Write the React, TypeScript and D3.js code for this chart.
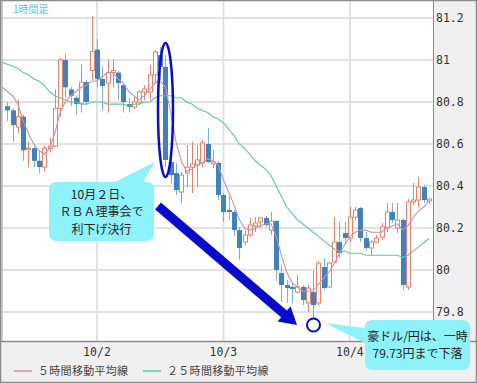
import React from 'react';
import * as d3 from 'd3';

const opens = [80.78,80.76,80.68,80.73,80.575,80.58,80.52,80.49,80.58,80.59, 80.77,81.00,80.86,80.82,80.795,80.895,80.95,81.05,80.91,80.89, 80.94,80.94,80.88,80.79,80.776,80.80,80.848,80.848,80.929,81.024, 80.967,80.514,80.462,80.371,80.462,80.49,80.50,80.51,80.60,80.505, 80.51,80.357,80.286,80.276,80.19,80.133,80.167,80.21,80.229,80.248, 80.19,80.233,79.986,79.929,79.919,79.895,79.919,79.843,79.895,79.843, 80.014,79.919,80.038,80.133,80.176,80.152,80.252,80.295,80.152,80.105, 80.133,80.157,80.20,80.276,80.20,80.238,79.919,80.324,80.333,80.395, 80.329];
const highs = [80.80,80.77,80.81,80.74,80.61,80.59,80.57,80.59,80.63,80.86, 81.01,81.03,80.87,80.83,80.98,80.905,81.21,81.10,80.97,81.00, 81.00,80.95,80.89,80.82,80.825,80.857,80.88,80.976,81.048,81.062, 81.024,80.524,80.51,80.467,80.595,80.61,80.595,80.619,80.676,80.571, 80.519,80.367,80.348,80.286,80.205,80.19,80.248,80.252,80.252,80.257, 80.276,80.238,80.024,79.952,79.943,79.976,79.929,79.929,80.0,80.043, 80.057,80.038,80.252,80.229,80.229,80.30,80.30,80.30,80.181,80.143, 80.167,80.224,80.319,80.319,80.319,80.248,80.338,80.414,80.443,80.405, 80.343];
const lows = [80.71,80.61,80.65,80.52,80.49,80.49,80.46,80.47,80.56,80.585, 80.73,80.82,80.78,80.74,80.75,80.786,80.905,80.87,80.76,80.75, 80.87,80.81,80.75,80.75,80.767,80.786,80.81,80.81,80.89,80.905, 80.49,80.414,80.357,80.319,80.395,80.367,80.395,80.49,80.51,80.486, 80.333,80.229,80.238,80.162,80.048,80.119,80.157,80.181,80.20,80.205, 80.167,79.948,79.848,79.843,79.843,79.890,79.833,79.80,79.77,79.833, 79.905,79.914,80.033,80.057,80.129,80.133,80.238,80.133,80.095,80.071, 80.129,80.143,80.181,80.224,80.176,79.905,79.905,80.31,80.30,80.319, 80.314];
const closes = [80.76,80.69,80.73,80.57,80.58,80.52,80.49,80.58,80.59,80.77, 81.00,80.87,80.83,80.79,80.895,80.80,81.04,80.91,80.876,80.94, 80.95,80.89,80.80,80.776,80.80,80.848,80.862,80.929,81.038,80.967, 80.524,80.452,80.381,80.452,80.49,80.505,80.524,80.605,80.514,80.514, 80.357,80.276,80.276,80.19,80.105,80.167,80.214,80.224,80.248,80.214, 80.233,80.0,79.929,79.914,79.910,79.919,79.857,79.914,79.833,80.033, 79.914,80.033,80.133,80.081,80.152,80.252,80.286,80.152,80.105,80.133, 80.152,80.205,80.276,80.238,80.238,79.929,80.324,80.333,80.395,80.333, 80.338];

// moving averages, first value is one hour before the first candle
const ma5 = [80.87,80.85,80.83,80.79,80.71,80.65,80.60,80.57,80.55,80.58,80.65, 80.75,80.80,80.83,80.85,80.87,80.88,80.90,80.90,80.92,80.94, 80.94,80.91,80.89,80.85,80.83,80.81,80.83,80.86,80.89,80.90, 80.87,80.75,80.61,80.52,80.47,80.48,80.50,80.51,80.53,80.52, 80.50,80.43,80.37,80.31,80.24,80.20,80.19,80.20,80.21,80.22, 80.22,80.16,80.07,79.99,79.94,79.92,79.90,79.90,79.90,79.93, 79.96,79.99,80.03,80.08,80.12,80.16,80.18,80.19,80.19,80.18, 80.18,80.18,80.20,80.21,80.22,80.19,80.21,80.25,80.28,80.30, 80.33];
const ma25 = [80.99,80.98,80.97,80.96,80.94,80.93,80.91,80.90,80.88,80.85,80.83, 80.82,80.81,80.80,80.80,80.79,80.79,80.80,80.80,80.80,80.79, 80.79,80.79,80.79,80.78,80.79,80.79,80.80,80.80,80.82,80.83, 80.83,80.83,80.82,80.82,80.80,80.79,80.77,80.76,80.75,80.73, 80.72,80.70,80.67,80.64,80.60,80.58,80.55,80.52,80.50,80.48, 80.45,80.40,80.35,80.30,80.27,80.24,80.22,80.20,80.18,80.16, 80.14,80.12,80.10,80.09,80.09,80.08,80.08,80.08,80.07,80.07, 80.07,80.07,80.07,80.07,80.07,80.06,80.07,80.09,80.11,80.13, 80.15];

const yTicks = [79.8, 80, 80.2, 80.4, 80.6, 80.8, 81, 81.2];
const yTickLabels = ['79.8', '80', '80.2', '80.4', '80.6', '80.8', '81', '81.2'];
const dayLabels = ['10/2', '10/3', '10/4'];
const dayIndex = [17, 41, 65];
const legendLabels = ['５時間移動平均線', '２５時間移動平均線'];
const note1 = ['10月２日、', 'ＲＢＡ理事会で', '利下げ決行'];
const note2 = ['豪ドル/円は、一時', '79.73円まで下落'];

const W = 477, H = 383;
const PL = 2, PT = 1, PR = 433, PB = 341;
const UP = '#e5836a';
const DOWN = '#3f82bd';
const DOWN_WICK = '#7db0da';
const PINK = '#cf8fab';
const GREEN = '#5ccb9c';
const CYAN = '#8ef2fb';
const NAVY = '#0a0acc';
const JP = '"Noto Sans CJK JP", "Noto Sans", sans-serif';
const MONO = '"DejaVu Sans Mono", monospace';

export default function App() {
  const x = d3.scaleLinear().domain([-1, 80]).range([2.1, 429]);
  const y = d3.scaleLinear().domain([79.8, 81.2]).range([312, 18]);
  const line = d3.line<number>().x((_, i) => x(i - 1)).y(d => y(d));

  const bw = 4;
  const candles = opens.map((o, i) => {
    const c = closes[i];
    const up = c >= o;
    const cx = Math.round(x(i));
    const top = y(Math.max(o, c));
    const bot = y(Math.min(o, c));
    return (
      <g key={i}>
        <line x1={cx + 0.5} x2={cx + 0.5} y1={y(highs[i])} y2={y(lows[i])} stroke={up ? UP : DOWN_WICK} strokeWidth={1} />
        {up ? (
          <rect x={cx - bw / 2 + 0.5} y={top} width={bw} height={Math.max(bot - top, 1)} fill="#fff" stroke={UP} strokeWidth={1} />
        ) : (
          <rect x={cx - bw / 2} y={top} width={bw + 1} height={Math.max(bot - top, 1)} fill={DOWN} />
        )}
      </g>
    );
  });

  // arrow geometry
  const sx = 158, sy = 206, tx = 297, ty = 325;
  const len = Math.hypot(tx - sx, ty - sy);
  const ux = (tx - sx) / len, uy = (ty - sy) / len;
  const px = -uy, py = ux;
  const hl = 17, hw = 10;
  const bx = tx - ux * hl, by = ty - uy * hl;

  return (
    <svg width={W} height={H} style={{ position: 'absolute', left: 0, top: 0, display: 'block' }}>
      <rect x={0} y={0} width={W} height={H} fill="#fff" />
      <defs>
        <clipPath id="plotclip">
          <rect x={PL} y={PT} width={PR - PL} height={PB - PT} />
        </clipPath>
      </defs>
      {/* panels */}
      <rect x={PR} y={0} width={W - PR} height={H} fill="#f0f0f0" />
      <rect x={0} y={PB} width={W} height={H - PB} fill="#f0f0f0" />
      {/* grid */}
      {yTicks.map((t, i) => (
        <line key={'gy' + i} x1={PL} x2={PR} y1={y(t)} y2={y(t)} stroke="#e2e2e2" strokeWidth={2} />
      ))}
      {dayIndex.map((d, i) => (
        <line key={'gx' + i} x1={x(d)} x2={x(d)} y1={PT} y2={PB} stroke="#e2e2e2" strokeWidth={2} />
      ))}
      <g clipPath="url(#plotclip)">
        {candles}
        <path d={line(ma25) || ''} fill="none" stroke={GREEN} strokeWidth={1.1} />
        <path d={line(ma5) || ''} fill="none" stroke={PINK} strokeWidth={1.1} />
      </g>
      {/* frame lines */}
      <line x1={PR + 0.5} x2={PR + 0.5} y1={0} y2={PB} stroke="#8a8a8a" strokeWidth={1} />
      <line x1={0} x2={W} y1={PB + 0.5} y2={PB + 0.5} stroke="#8a8a8a" strokeWidth={1.5} />
      <rect x={0.5} y={0.5} width={W - 1} height={H - 1} fill="none" stroke="#8a8a8a" strokeWidth={1.5} />
      <line x1={PL} x2={PL} y1={0} y2={PB} stroke="#9a9a9a" strokeWidth={1} />
      {/* y labels */}
      {yTicks.map((t, i) => (
        <text key={'yl' + i} x={436} y={y(t) + 4} fontFamily={MONO} fontSize={11.5} fill="#333">{yTickLabels[i]}</text>
      ))}
      {/* x labels */}
      {dayIndex.map((d, i) => (
        <text key={'xl' + i} x={x(d)} y={356} textAnchor="middle" fontFamily={MONO} fontSize={11.5} fill="#333">{dayLabels[i]}</text>
      ))}
      {/* legend */}
      <line x1={14} x2={32} y1={371} y2={371} stroke={PINK} strokeWidth={1.5} />
      <text x={38} y={375} fontFamily={JP} fontSize={11} fill="#444" letterSpacing={0.3}>{legendLabels[0]}</text>
      <line x1={143} x2={161} y1={371} y2={371} stroke={GREEN} strokeWidth={1.5} />
      <text x={167} y={375} fontFamily={JP} fontSize={11} fill="#444" letterSpacing={0.3}>{legendLabels[1]}</text>
      {/* title */}
      <text x={13} y={13} fontFamily={JP} fontSize={10} fill="#56c2f0">1時間足</text>
      {/* ellipse */}
      <ellipse cx={165.5} cy={110} rx={7.5} ry={67} fill="none" stroke={NAVY} strokeWidth={2.5} />
      {/* arrow */}
      <line x1={sx} y1={sy} x2={bx + ux} y2={by + uy} stroke={NAVY} strokeWidth={9} />
      <polygon points={`${tx},${ty} ${bx + px * hw},${by + py * hw} ${bx - px * hw},${by - py * hw}`} fill={NAVY} />
      {/* callout 1 */}
      <path d="M 57 182 L 115 182 L 155 162 L 143 182 L 146 182 Q 154 182 154 190 L 154 233 Q 154 241 146 241 L 57 241 Q 49 241 49 233 L 49 190 Q 49 182 57 182 Z" fill={CYAN} />
      {note1.map((t, i) => (
        <text key={'n1' + i} x={101.5} y={198.5 + i * 17.5} textAnchor="middle" fontFamily={JP} fontSize={12} fill="#222">{t}</text>
      ))}
      {/* circle */}
      <circle cx={313.5} cy={325} r={6.5} fill="none" stroke={NAVY} strokeWidth={2} />
      {/* callout 2 */}
      <path d="M 373 320 L 462 320 Q 470 320 470 328 L 470 362 Q 470 370 462 370 L 373 370 Q 365 370 365 362 L 365 343 L 325 323 L 365 328 Q 365 320 373 320 Z" fill={CYAN} />
      {note2.map((t, i) => (
        <text key={'n2' + i} x={417.5} y={340.5 + i * 17.5} textAnchor="middle" fontFamily={JP} fontSize={12} fill="#222">{t}</text>
      ))}
    </svg>
  );
}
